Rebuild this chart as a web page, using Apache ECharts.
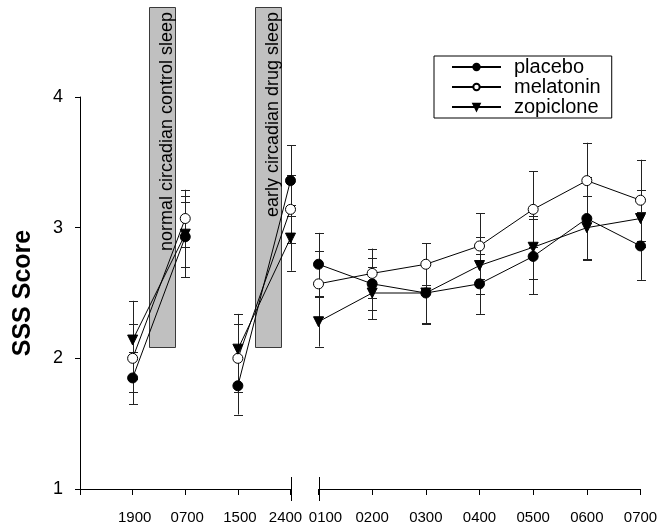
<!DOCTYPE html>
<html>
<head>
<meta charset="utf-8">
<script src="https://cdn.jsdelivr.net/npm/echarts@6/dist/echarts.min.js"></script>
<style>
  html, body { margin: 0; padding: 0; background: #fff; }
  #chart { width: 661px; height: 529px; }
</style>
</head>
<body>
<div id="chart"></div>
<script>
// Clock times of the two panels
const leftTimes = ['1900', '0700', '1500', '2400'];
const rightTimes = ['0100', '0200', '0300', '0400', '0500', '0600', '0700'];
const seriesNames = ['placebo', 'melatonin', 'zopiclone'];

// Mean SSS scores
const placeboLeft = [1.85, 2.93, 1.79, 3.36];
const placeboRight = [2.72, 2.57, 2.50, 2.57, 2.78, 3.07, 2.86];
const melatoninLeft = [2.00, 3.07, 2.00, 3.14];
const melatoninRight = [2.57, 2.65, 2.72, 2.86, 3.14, 3.36, 3.21];
const zopicloneLeft = [2.14, 2.95, 2.07, 2.92];
const zopicloneRight = [2.28, 2.50, 2.50, 2.71, 2.85, 3.00, 3.07];

// Error bar half-lengths
const placeboErrLeft = [0.20, 0.31, 0.22, 0.27];
const placeboErrRight = [0.24, 0.20, 0.23, 0.23, 0.29, 0.32, 0.26];
const melatoninErrLeft = [0.26, 0.22, 0.26, 0.26];
const melatoninErrRight = [0.25, 0.19, 0.16, 0.25, 0.29, 0.29, 0.31];
const zopicloneErrLeft = [0.30, 0.25, 0.27, 0.25];
const zopicloneErrRight = [0.19, 0.20, 0.24, 0.22, 0.24, 0.24, 0.22];

// Sleep periods shaded in the left panel (x in left-panel time slots, 1 = 1900; y in SSS score)
const sleepLabels = ['normal circadian control sleep', 'early circadian drug sleep'];
const sleepFrom = [1.31, 3.32];
const sleepTo = [1.81, 3.81];
const sleepLow = [2.09, 2.09];
const sleepHigh = [4.69, 4.69];

// Y axis
const yMin = 1, yMax = 4, yStep = 1;

const FONT = '"Liberation Sans", Arial, sans-serif';

const leftMeans = [placeboLeft, melatoninLeft, zopicloneLeft];
const rightMeans = [placeboRight, melatoninRight, zopicloneRight];
const leftErrs = [placeboErrLeft, melatoninErrLeft, zopicloneErrLeft];
const rightErrs = [placeboErrRight, melatoninErrRight, zopicloneErrRight];

// Left panel: slot i sits at x = i + 1; the evening (1500) pair is not joined to the morning (0700) point
function leftLine(vals) {
  const out = [];
  vals.forEach((v, i) => {
    out.push([i + 1, v]);
    if (i === 1) out.push([i + 1.5, '-']);
  });
  return out;
}
function rightLine(vals) {
  return vals.map((v, i) => [i, v]);
}
function errData(means, errs, offset) {
  const out = [];
  means.forEach((vals, s) => {
    vals.forEach((v, i) => out.push([i + offset, v - errs[s][i], v + errs[s][i]]));
  });
  return out;
}

const markerStyles = [
  { symbol: 'circle', itemStyle: { color: '#000', borderColor: '#000', borderWidth: 1 } },
  { symbol: 'circle', itemStyle: { color: '#fff', borderColor: '#000', borderWidth: 1 } },
  { symbol: 'triangle', symbolRotate: 180, itemStyle: { color: '#000', borderColor: '#000', borderWidth: 1 } }
];

function lineSeries(name, idx, data, grid) {
  const m = markerStyles[idx];
  return {
    type: 'line',
    name: name,
    xAxisIndex: grid,
    yAxisIndex: grid,
    data: data,
    symbol: m.symbol,
    symbolRotate: m.symbolRotate || 0,
    symbolSize: 10,
    showAllSymbol: true,
    connectNulls: false,
    lineStyle: { color: '#000', width: 1 },
    itemStyle: m.itemStyle,
    z: 5,
    silent: true
  };
}

function errorBarSeries(data, grid) {
  return {
    type: 'custom',
    xAxisIndex: grid,
    yAxisIndex: grid,
    data: data,
    z: 3,
    silent: true,
    clip: false,
    renderItem(params, api) {
      const lo = api.coord([api.value(0), api.value(1)]);
      const hi = api.coord([api.value(0), api.value(2)]);
      const x = Math.round(lo[0]) + 0.5;
      const cap = 4.5;
      const st = { stroke: '#222', lineWidth: 1 };
      return {
        type: 'group',
        children: [
          { type: 'line', shape: { x1: x, y1: hi[1], x2: x, y2: lo[1] }, style: st },
          { type: 'line', shape: { x1: x - cap, y1: Math.round(hi[1]) + 0.5, x2: x + cap, y2: Math.round(hi[1]) + 0.5 }, style: st },
          { type: 'line', shape: { x1: x - cap, y1: Math.round(lo[1]) + 0.5, x2: x + cap, y2: Math.round(lo[1]) + 0.5 }, style: st }
        ]
      };
    }
  };
}

// Vertical bar marking the break in the time axis
function breakSeries(xVal, grid) {
  return {
    type: 'custom',
    xAxisIndex: grid,
    yAxisIndex: grid,
    data: [[xVal]],
    z: 4,
    silent: true,
    clip: false,
    renderItem(params, api) {
      const cs = params.coordSys;
      const p = api.coord([api.value(0), yMin]);
      const x = Math.round(p[0]) + 0.5;
      const y = cs.y + cs.height;
      return { type: 'line', shape: { x1: x, y1: y - 12, x2: x, y2: y + 12 }, style: { stroke: '#000', lineWidth: 1 } };
    }
  };
}

const sleepSeries = {
  type: 'custom',
  xAxisIndex: 0,
  yAxisIndex: 0,
  data: sleepLabels.map((t, i) => [sleepFrom[i], sleepTo[i], sleepLow[i], sleepHigh[i], t]),
  z: 1,
  silent: true,
  clip: false,
  renderItem(params, api) {
    const p0 = api.coord([api.value(0), api.value(3)]);
    const p1 = api.coord([api.value(1), api.value(2)]);
    const x0 = Math.round(p0[0]) + 0.5, y0 = Math.round(p0[1]) + 0.5;
    const x1 = Math.round(p1[0]) + 0.5, y1 = Math.round(p1[1]) + 0.5;
    return {
      type: 'group',
      children: [
        { type: 'rect', shape: { x: x0, y: y0, width: x1 - x0, height: y1 - y0 },
          style: { fill: '#c0c0c0', stroke: '#3a3a3a', lineWidth: 1 } },
        { type: 'text', x: x1 + 1, y: y0 + 4.5, rotation: Math.PI / 2,
          style: { text: api.value(4), fontSize: 18, fontFamily: FONT, fill: '#000',
                   align: 'right', verticalAlign: 'bottom' } }
      ]
    };
  }
};

const series = [sleepSeries];
series.push(errorBarSeries(errData(leftMeans, leftErrs, 1), 0));
series.push(errorBarSeries(errData(rightMeans, rightErrs, 0), 1));
series.push(breakSeries(leftTimes.length, 0));
series.push(breakSeries(0, 1));
seriesNames.forEach((n, i) => series.push(lineSeries(n, i, leftLine(leftMeans[i]), 0)));
seriesNames.forEach((n, i) => series.push(lineSeries(n, i, rightLine(rightMeans[i]), 1)));

const labelRich = {
  c: { fontSize: 15, fontFamily: FONT, color: '#000', padding: [0, 0, 0, 4] },
  l: { fontSize: 15, fontFamily: FONT, color: '#000', padding: [0, 10, 0, 0] },
  r: { fontSize: 15, fontFamily: FONT, color: '#000', padding: [0, 0, 0, 14] },
  n: { fontSize: 15, fontFamily: FONT, color: '#000' }
};

const commonX = {
  type: 'value',
  splitLine: { show: false },
  axisLine: { show: true, onZero: false, lineStyle: { color: '#000', width: 1 } },
  axisTick: { show: true, length: 6, lineStyle: { color: '#000', width: 1 } },
  axisLabel: { margin: 21, rich: labelRich, showMinLabel: true, showMaxLabel: true }
};

const option = {
  animation: false,
  backgroundColor: '#fff',
  textStyle: { fontFamily: FONT },
  grid: [
    { left: 80, top: 97, width: 210.5, height: 392 },
    { left: 318.5, top: 97, width: 322, height: 392 }
  ],
  xAxis: [
    Object.assign({}, commonX, {
      gridIndex: 0, min: 0, max: leftTimes.length, interval: 1,
      axisLabel: Object.assign({}, commonX.axisLabel, {
        formatter: v => {
          const t = leftTimes[v - 1];
          if (!t) return '';
          return v === leftTimes.length ? '{l|' + t + '}' : '{c|' + t + '}';
        }
      })
    }),
    Object.assign({}, commonX, {
      gridIndex: 1, min: 0, max: rightTimes.length - 1, interval: 1,
      axisLabel: Object.assign({}, commonX.axisLabel, {
        formatter: v => {
          const t = rightTimes[v];
          if (!t) return '';
          return v === 0 ? '{r|' + t + '}' : '{n|' + t + '}';
        }
      })
    })
  ],
  yAxis: [
    {
      type: 'value', gridIndex: 0, min: yMin, max: yMax, interval: yStep,
      name: 'SSS Score', nameLocation: 'middle', nameGap: 44, nameRotate: 90,
      nameTextStyle: { fontSize: 25, fontWeight: 'bold', fontFamily: FONT, color: '#000' },
      splitLine: { show: false },
      axisLine: { show: true, onZero: false, lineStyle: { color: '#000', width: 1 } },
      axisTick: { show: true, length: 5, lineStyle: { color: '#000', width: 1 } },
      axisLabel: { margin: 17, fontSize: 18, fontFamily: FONT, color: '#000' }
    },
    {
      type: 'value', gridIndex: 1, min: yMin, max: yMax, interval: yStep, show: false,
      splitLine: { show: false }
    }
  ],
  legend: {
    data: seriesNames,
    orient: 'vertical',
    left: 434,
    top: 56,
    padding: [1, 11, 1, 17],
    borderColor: '#000',
    borderWidth: 1,
    borderRadius: 0,
    itemWidth: 49,
    itemHeight: 8,
    itemGap: 0,
    selectedMode: false,
    textStyle: { fontSize: 20, lineHeight: 19, fontFamily: FONT, color: '#000', padding: [0, 0, 0, 8] }
  },
  series: series
};

const chart = echarts.init(document.getElementById('chart'), null, { renderer: 'canvas' });
chart.setOption(option);
</script>
</body>
</html>
